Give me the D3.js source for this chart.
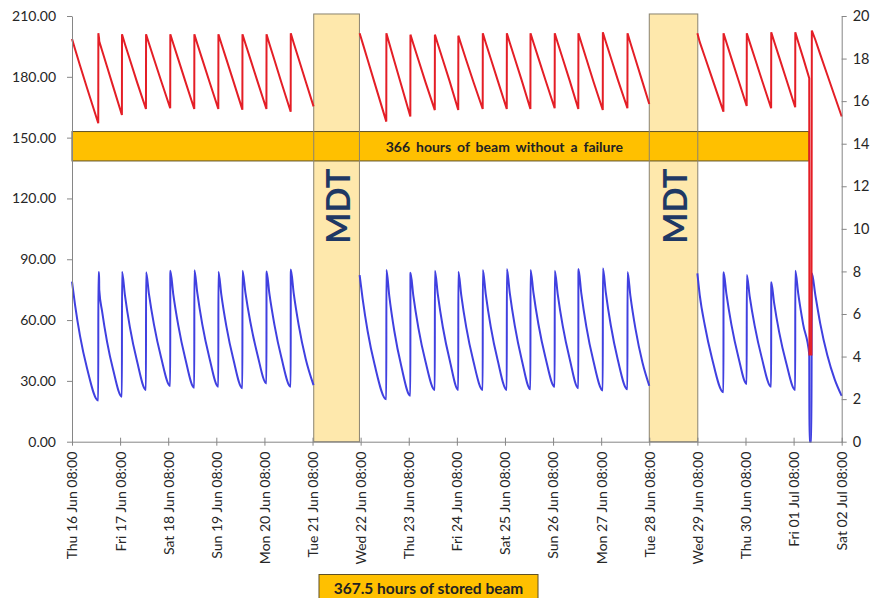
<!DOCTYPE html>
<html>
<head>
<meta charset="utf-8">
<script src="https://cdnjs.cloudflare.com/ajax/libs/d3/7.8.5/d3.min.js"></script>
<style>
  html, body { margin: 0; padding: 0; background: #fff; }
  svg { display: block; font-family: Lato, "Open Sans", sans-serif; }
</style>
</head>
<body>
<svg id="chart" width="879" height="598"></svg>
<script>
// Run period: Thu 16 Jun 08:00 to Sat 02 Jul 08:00, times in hours from the start.
const tickLabels = [
  "Thu 16 Jun 08:00", "Fri 17 Jun 08:00", "Sat 18 Jun 08:00", "Sun 19 Jun 08:00",
  "Mon 20 Jun 08:00", "Tue 21 Jun 08:00", "Wed 22 Jun 08:00", "Thu 23 Jun 08:00",
  "Fri 24 Jun 08:00", "Sat 25 Jun 08:00", "Sun 26 Jun 08:00", "Mon 27 Jun 08:00",
  "Tue 28 Jun 08:00", "Wed 29 Jun 08:00", "Thu 30 Jun 08:00", "Fri 01 Jul 08:00",
  "Sat 02 Jul 08:00"
];
const leftTicks = [0, 30, 60, 90, 120, 150, 180, 210];
const rightTicks = [0, 2, 4, 6, 8, 10, 12, 14, 16, 18, 20];

// Sample times (h); null rows mark the machine development periods.
const hours = [
  0, 1.5, 4, 7.5, 13.1, 13.15, 13.5, 13.6, 15, 17.5, 20.5,
  24.9, 24.95, 26.4, 28.9, 32.4,
  36.9, 36.95, 38.4, 40.9, 44.4,
  49, 49.05, 50.5, 53, 56.5,
  61, 61.05, 62.5, 65, 68.5,
  73, 73.05, 74.5, 77, 80.5,
  85, 85.05, 86.5, 89, 92.5,
  97, 97.05, 98.5, 101, 104.5,
  109.1, 109.15, 110.6, 113.1, 116.6,
  120.5,
  132,
  143.5, 145, 147.5, 151,
  156.8, 156.85, 158.3, 160.8, 164.3,
  168.8, 168.85, 170.3, 172.8, 176.3,
  181, 181.05, 182.5, 185, 188.5,
  192.7, 192.75, 194.2, 196.7, 200.2,
  204.9, 204.95, 206.4, 208.9, 212.4,
  216.9, 216.95, 218.4, 220.9, 224.4,
  228.7, 228.75, 230.2, 232.7, 236.2,
  240.8, 240.85, 242.3, 244.8, 248.3,
  252.6, 252.65, 254.1, 256.6, 260.1,
  264.8, 264.85, 266.3, 268.8, 272.3,
  277.1, 277.15, 278.6, 281.1, 284.6,
  288,
  300,
  312, 313.2, 315.7, 319.2,
  325, 325.05, 326.5, 329, 332.5,
  336.6, 336.65, 338.1, 340.6, 344.1,
  348.8, 348.85, 350.3, 352.8, 356.3,
  360.8, 360.85, 362.3, 364.8,
  367.8, 367.9, 368.9, 369.1,
  370.8, 373.3, 376.8, 380.5, 384
];

// Stored beam current (left axis)
const beamCurrent = [
  198.7, 193.7, 185.6, 174.5, 157.1, 201.5, 199.0, 197.5, 193.0, 185.0, 175.3,
  161.2, 201.0, 196.2, 188.4, 177.5,
  164.1, 201.0, 196.4, 188.8, 178.2,
  164.5, 201.0, 196.4, 188.7, 177.9,
  164.1, 201.0, 196.3, 188.6, 177.8,
  164.1, 201.0, 196.4, 188.7, 177.9,
  163.8, 201.0, 196.4, 188.7, 177.9,
  164.1, 201.0, 196.2, 188.3, 177.1,
  162.8, 201.5, 196.7, 188.8, 177.7,
  165.4,
  null,
  201.5, 196.6, 188.4, 176.9,
  157.9, 201.5, 196.4, 187.8, 175.8,
  160.4, 200.8, 196.2, 188.4, 177.5,
  163.6, 200.8, 196.2, 188.4, 177.5,
  163.6, 200.3, 195.8, 188.2, 177.7,
  164.1, 201.5, 196.8, 189.0, 178.1,
  164.1, 201.5, 196.8, 189.0, 178.1,
  164.1, 201.5, 196.9, 189.2, 178.4,
  164.5, 201.5, 196.8, 189.0, 178.1,
  164.1, 201.5, 196.8, 188.9, 177.8,
  163.6, 202.0, 197.3, 189.5, 178.6,
  164.5, 201.5, 196.7, 188.7, 177.5,
  166.6,
  null,
  201.5, 197.1, 189.9, 179.7,
  162.8, 201.5, 196.9, 189.1, 178.3,
  165.6, 201.5, 197.0, 189.4, 178.7,
  164.5, 202.0, 197.4, 189.7, 178.9,
  165.0, 202.0, 197.2, 189.2,
  179.3, 43, 43, 202.8,
  198.4, 191.1, 181.0, 170.4, 160.4
];

// Beam lifetime (right axis)
const beamLifetime = [
  7.52, 6.44, 4.97, 3.45, 1.93, 7.96, 7.96, 7.13, 6.13, 4.69, 3.39,
  2.11, 7.99, 6.89, 5.37, 3.80,
  2.43, 7.96, 6.93, 5.50, 3.98,
  2.62, 8.03, 6.95, 5.48, 3.91,
  2.54, 8.06, 7.00, 5.51, 3.96,
  2.58, 7.99, 6.91, 5.43, 3.87,
  2.51, 8.03, 7.02, 5.61, 4.10,
  2.74, 8.00, 6.94, 5.49, 3.94,
  2.58, 8.09, 6.98, 5.48, 3.89,
  2.66,
  null,
  7.83, 6.71, 5.19, 3.61,
  1.99, 8.07, 6.84, 5.20, 3.54,
  2.16, 7.94, 6.85, 5.35, 3.79,
  2.43, 8.03, 6.92, 5.39, 3.80,
  2.43, 7.99, 6.89, 5.37, 3.80,
  2.43, 8.07, 6.95, 5.41, 3.81,
  2.43, 8.11, 6.99, 5.45, 3.84,
  2.46, 8.07, 7.01, 5.52, 3.96,
  2.58, 8.03, 6.95, 5.45, 3.89,
  2.51, 8.11, 6.97, 5.41, 3.80,
  2.41, 8.15, 7.02, 5.47, 3.85,
  2.46, 7.97, 6.84, 5.31, 3.72,
  2.63,
  null,
  7.91, 6.88, 5.47, 3.96,
  2.32, 7.96, 6.93, 5.49, 3.96,
  2.71, 7.83, 6.83, 5.44, 3.95,
  2.58, 7.49, 6.51, 5.15, 3.71,
  2.43, 8.03, 6.97, 5.50,
  4.10, 0, 0, 7.91,
  6.92, 5.55, 4.07, 2.93, 2.15
];

// Machine development periods (hours) and the annotation bands
const mdtStart = [120.6, 288.0];
const mdtEnd = [143.4, 312.2];
const mdtTop = 211;
const runBandHours = [0, 367.7];
const runBandLevels = [138.5, 153];
const runText = "366 hours of beam without a failure";
const storedText = "367.5 hours of stored beam";

const t0 = new Date(2022, 5, 16, 8, 0, 0);
const at = h => new Date(t0.getTime() + h * 3600 * 1000);

const svg = d3.select("#chart");
const plotLeft = 72, plotRight = 841.7, plotTop = 16, plotBottom = 441.7;

const x = d3.scaleTime().domain([at(0), at(384)]).range([plotLeft, plotRight]);
const yL = d3.scaleLinear().domain([0, 210]).range([plotBottom, plotTop]);
const yR = d3.scaleLinear().domain([0, 20]).range([plotBottom, plotTop]);

const rows = hours.map((h, i) => ({ t: at(h), c: beamCurrent[i], l: beamLifetime[i] }));

// MDT boxes (fill first, outline drawn again above the band)
const mdt = mdtStart.map((s, i) => ({ s, e: mdtEnd[i] }));
svg.append("g").selectAll("rect").data(mdt).join("rect")
  .attr("x", d => x(at(d.s)))
  .attr("y", yL(mdtTop))
  .attr("width", d => x(at(d.e)) - x(at(d.s)))
  .attr("height", d => yL(0) - yL(mdtTop))
  .attr("fill", "#FEE8AC");

// Band: hours of beam without a failure
svg.append("rect")
  .attr("x", x(at(runBandHours[0])))
  .attr("y", yL(runBandLevels[1]))
  .attr("width", x(at(runBandHours[1])) - x(at(runBandHours[0])))
  .attr("height", yL(runBandLevels[0]) - yL(runBandLevels[1]))
  .attr("fill", "#FFC000")
  .attr("stroke", "#5f5126")
  .attr("stroke-width", 1);

svg.append("g").selectAll("rect").data(mdt).join("rect")
  .attr("x", d => x(at(d.s)))
  .attr("y", yL(mdtTop))
  .attr("width", d => x(at(d.e)) - x(at(d.s)))
  .attr("height", d => yL(0) - yL(mdtTop))
  .attr("fill", "none")
  .attr("stroke", "#8a8370")
  .attr("stroke-width", 1);

svg.append("g").selectAll("text").data(mdt).join("text")
  .attr("transform", d => `translate(${(x(at(d.s)) + x(at(d.e))) / 2},206) rotate(-90)`)
  .attr("text-anchor", "middle")
  .attr("dominant-baseline", "central")
  .attr("font-size", 33)
  .attr("font-weight", 700)
  .attr("fill", "#1F3864")
  .text("MDT");

svg.append("text")
  .attr("x", (x(at(mdtEnd[0])) + x(at(mdtStart[1]))) / 2)
  .attr("y", (yL(runBandLevels[0]) + yL(runBandLevels[1])) / 2)
  .attr("text-anchor", "middle")
  .attr("dominant-baseline", "central")
  .attr("font-size", 14)
  .attr("word-spacing", 2.5)
  .attr("font-weight", 700)
  .attr("fill", "#222")
  .text(runText);

// Series: lifetime underneath, current on top
const lifeLine = d3.line()
  .defined(d => d.l !== null)
  .curve(d3.curveMonotoneX)
  .x(d => x(d.t)).y(d => yR(d.l));
const currLine = d3.line()
  .defined(d => d.c !== null)
  .x(d => x(d.t)).y(d => yL(d.c));

svg.append("path").datum(rows)
  .attr("d", lifeLine)
  .attr("fill", "none")
  .attr("stroke", "#4040E0")
  .attr("stroke-width", 2);

svg.append("path").datum(rows)
  .attr("d", currLine)
  .attr("fill", "none")
  .attr("stroke", "#E41E26")
  .attr("stroke-width", 2);

// Axes
const axisColor = "#868686";
const textColor = "#262626";

const gL = svg.append("g").attr("transform", `translate(${plotLeft},0)`)
  .call(d3.axisLeft(yL).tickValues(leftTicks).tickFormat(d3.format(".2f"))
    .tickSize(5).tickSizeOuter(0).tickPadding(11));
const gR = svg.append("g").attr("transform", `translate(${plotRight},0)`)
  .call(d3.axisRight(yR).tickValues(rightTicks)
    .tickSize(5).tickSizeOuter(0).tickPadding(6));
const gB = svg.append("g").attr("transform", `translate(0,${plotBottom})`)
  .call(d3.axisBottom(x).tickValues(tickLabels.map((_, i) => d3.timeDay.offset(t0, i)))
    .tickFormat((d, i) => tickLabels[i]).tickSize(4).tickSizeOuter(0));

gB.selectAll(".tick line").attr("y1", -4).attr("y2", 4);
gB.selectAll(".tick text")
  .attr("transform", "rotate(-90)")
  .attr("x", -10).attr("y", 0).attr("dy", "0.35em")
  .attr("text-anchor", "end");

[gL, gR, gB].forEach(g => {
  g.select(".domain").attr("stroke", axisColor);
  g.selectAll(".tick line").attr("stroke", axisColor);
  g.selectAll(".tick text").attr("fill", textColor)
    .attr("font-size", 14).attr("font-family", "Lato, sans-serif");
});
gR.selectAll(".tick text").attr("font-size", 14.5);

// Stored beam label under the axis
const boxG = svg.append("g");
boxG.append("rect")
  .attr("x", 319).attr("y", 574.5).attr("width", 219).attr("height", 30)
  .attr("fill", "#FFC000").attr("stroke", "#5f5126").attr("stroke-width", 1);
boxG.append("text")
  .attr("x", 428.5).attr("y", 588)
  .attr("text-anchor", "middle")
  .attr("dominant-baseline", "central")
  .attr("font-size", 15.5).attr("font-weight", 700).attr("fill", "#222")
  .text(storedText);
</script>
</body>
</html>
